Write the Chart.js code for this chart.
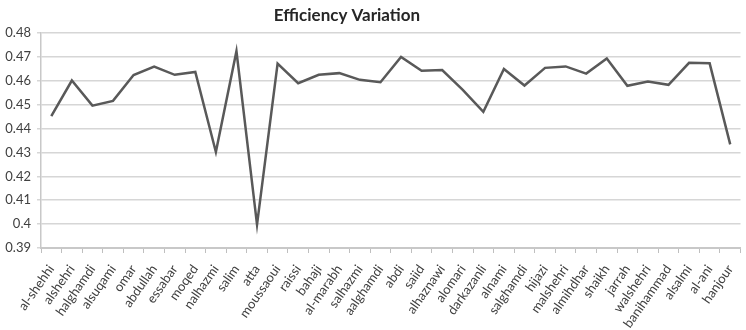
<!DOCTYPE html>
<html>
<head>
<meta charset="utf-8">
<script src="https://cdn.jsdelivr.net/npm/chart.js@4.4.1/dist/chart.umd.min.js"></script>
<style>
  html, body { margin: 0; padding: 0; background: #fff; overflow: hidden; width: 746px; height: 330px; }
  canvas { display: block; }
</style>
</head>
<body>
<canvas id="c" width="752" height="330"></canvas>
<script>
const chartTitle = 'Efficiency Variation';

const names = [
  'al-shehhi', 'alshehri', 'halghamdi', 'alsuqami', 'omar', 'abdullah', 'essabar',
  'moqed', 'nalhazmi', 'salim', 'atta', 'moussaoui', 'raissi', 'bahaji', 'al-marabh',
  'salhazmi', 'aalghamdi', 'abdi', 'saiid', 'alhaznawi', 'alomari', 'darkazanli',
  'alnami', 'salghamdi', 'hijazi', 'malshehri', 'almihdhar', 'shaikh', 'jarrah',
  'walshehri', 'banihammad', 'alsalmi', 'al-ani', 'hanjour'
];

const efficiency = [
  0.4452, 0.4601, 0.4496, 0.4516, 0.4624, 0.4659, 0.4625,
  0.4637, 0.4302, 0.4724, 0.3998, 0.4672, 0.4590, 0.4625, 0.4632,
  0.4604, 0.4594, 0.4700, 0.4642, 0.4645, 0.4562, 0.4470,
  0.4649, 0.4580, 0.4654, 0.4660, 0.4630, 0.4693, 0.4579,
  0.4597, 0.4583, 0.4675, 0.4673, 0.4334
];

const yTicks = [0.39, 0.40, 0.41, 0.42, 0.43, 0.44, 0.45, 0.46, 0.47, 0.48];

// Heading drawn above the plot, slightly left of the canvas centre
const headingPlugin = {
  id: 'heading',
  afterDraw(chart) {
    const ctx = chart.ctx;
    ctx.save();
    ctx.font = 'bold 17px Lato, "Open Sans", sans-serif';
    ctx.fillStyle = '#262626';
    ctx.textAlign = 'center';
    ctx.textBaseline = 'alphabetic';
    ctx.fillText(chartTitle, 347, 21);
    ctx.restore();
  }
};

new Chart(document.getElementById('c'), {
  type: 'line',
  data: {
    labels: names,
    datasets: [{
      data: efficiency,
      borderColor: '#595959',
      borderWidth: 2.5,
      pointRadius: 0,
      tension: 0,
      fill: false
    }]
  },
  options: {
    responsive: false,
    animation: false,
    devicePixelRatio: 1,
    layout: { padding: { top: 33, right: 0, left: 0, bottom: 0 } },
    plugins: {
      legend: { display: false },
      title: { display: false },
      tooltip: { enabled: false }
    },
    scales: {
      x: {
        offset: true,
        grid: {
          offset: true,
          drawOnChartArea: false,
          drawTicks: true,
          tickLength: 5,
          color: '#bfbfbf',
          lineWidth: 1
        },
        border: { color: '#c8c8c8', width: 2 },
        ticks: {
          autoSkip: false,
          maxRotation: 55,
          minRotation: 55,
          padding: 9,
          color: '#404040',
          font: { family: 'Lato, "Open Sans", sans-serif', size: 13 }
        },
        afterFit(scale) { scale.height = 82; }
      },
      y: {
        min: 0.39,
        max: 0.48,
        afterBuildTicks(scale) { scale.ticks = yTicks.map(v => ({ value: v })); },
        grid: {
          color: '#d6d6d6',
          lineWidth: 1.5,
          drawTicks: true,
          tickLength: 4
        },
        border: { color: '#c8c8c8', width: 1.5 },
        ticks: {
          padding: 6,
          color: '#404040',
          font: { family: 'Lato, "Open Sans", sans-serif', size: 13 },
          callback: v => String(Number(v.toFixed(2)))
        },
        afterFit(scale) { scale.width = 41; }
      }
    }
  },
  plugins: [headingPlugin]
});
</script>
</body>
</html>
